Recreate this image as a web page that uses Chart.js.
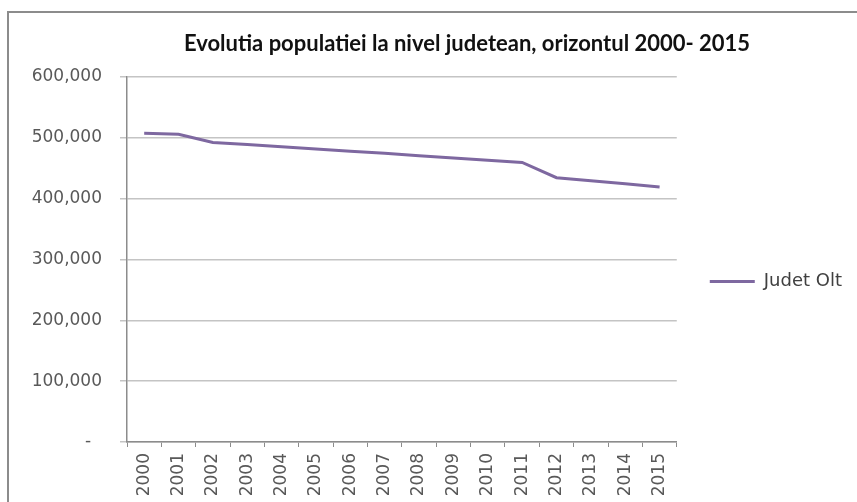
<!DOCTYPE html>
<html>
<head>
<meta charset="utf-8">
<script src="https://cdn.jsdelivr.net/npm/chart.js@4.4.1/dist/chart.umd.min.js"></script>
<style>
    html, body { margin: 0; padding: 0; background: #ffffff; overflow: hidden; }
    #frame {
        position: absolute;
        left: 7px;
        top: 11px;
        width: 1000px;
        height: 600px;
        border: 2px solid #8c8c8c;
    }
    #wrap { position: absolute; left: 0; top: 0; width: 857px; height: 502px; }
</style>
</head>
<body>
<div id="frame"></div>
<div id="wrap"><canvas id="populationChart"></canvas></div>
<script>
const chartTitle = 'Evolutia populatiei la nivel judetean, orizontul 2000- 2015';
const years = ['2000', '2001', '2002', '2003', '2004', '2005', '2006', '2007',
    '2008', '2009', '2010', '2011', '2012', '2013', '2014', '2015'];
const judetOlt = [507500, 506000, 492500, 489000, 485500, 481500, 478000, 474500,
    470500, 467000, 463000, 459500, 434500, 429500, 424500, 419000];
const yTicks = [0, 100000, 200000, 300000, 400000, 500000, 600000];

const labelColor = '#595959';
const gridColor = '#c4c4c4';
const axisColor = '#8c8c8c';

// the original chart is wider than the visible crop, so its title sits right of centre
const excelTitle = {
    id: 'excelTitle',
    afterDraw(chart) {
        const ctx = chart.ctx;
        ctx.save();
        ctx.font = 'bold 22px Lato, sans-serif';
        ctx.fillStyle = '#111111';
        ctx.textAlign = 'center';
        ctx.textBaseline = 'middle';
        ctx.fillText(chartTitle, chart.chartArea.left + 340, chart.chartArea.top - 33);
        ctx.restore();
    },
};

new Chart(document.getElementById('populationChart'), {
    type: 'line',
    data: {
        labels: years,
        datasets: [
            {
                label: 'Judet Olt',
                data: judetOlt,
                borderColor: '#7e68a0',
                backgroundColor: '#7e68a0',
                borderWidth: 3,
                pointRadius: 0,
                tension: 0,
            },
        ],
    },
    plugins: [excelTitle],
    options: {
        responsive: true,
        maintainAspectRatio: false,
        animation: false,
        layout: {
            padding: { left: 10, right: 5, top: 77, bottom: 0 },
        },
        plugins: {
            title: { display: false },
            legend: {
                position: 'right',
                align: 'start',
                title: {
                    display: true,
                    text: ' ',
                    font: { size: 12 },
                    padding: { top: 148, bottom: 0 },
                },
                labels: {
                    usePointStyle: true,
                    pointStyle: 'line',
                    pointStyleWidth: 45,
                    padding: 33,
                    color: '#404040',
                    font: { family: "'DejaVu Sans', sans-serif", size: 18 },
                },
            },
            tooltip: { enabled: false },
        },
        scales: {
            x: {
                offset: true,
                grid: {
                    offset: true,
                    drawOnChartArea: false,
                    drawTicks: true,
                    tickLength: 5,
                    color: axisColor,
                },
                border: { color: axisColor, width: 1.5 },
                ticks: {
                    color: labelColor,
                    minRotation: 90,
                    maxRotation: 90,
                    padding: 6,
                    font: { family: "'DejaVu Sans', sans-serif", size: 17 },
                },
                afterFit(scale) {
                    scale.height = 60;
                },
            },
            y: {
                min: 0,
                max: 600000,
                afterBuildTicks(scale) {
                    scale.ticks = yTicks.map(v => ({ value: v }));
                },
                grid: {
                    color: gridColor,
                    lineWidth: 1.5,
                    tickLength: 7,
                },
                border: { color: axisColor, width: 1.5 },
                ticks: {
                    color: labelColor,
                    padding: 18,
                    font: { family: "'DejaVu Sans', sans-serif", size: 17 },
                    callback: value => (value === 0 ? '-  ' : value.toLocaleString('en-US')),
                },
                afterFit(scale) {
                    scale.width = 117;
                },
            },
        },
    },
});
</script>
</body>
</html>
